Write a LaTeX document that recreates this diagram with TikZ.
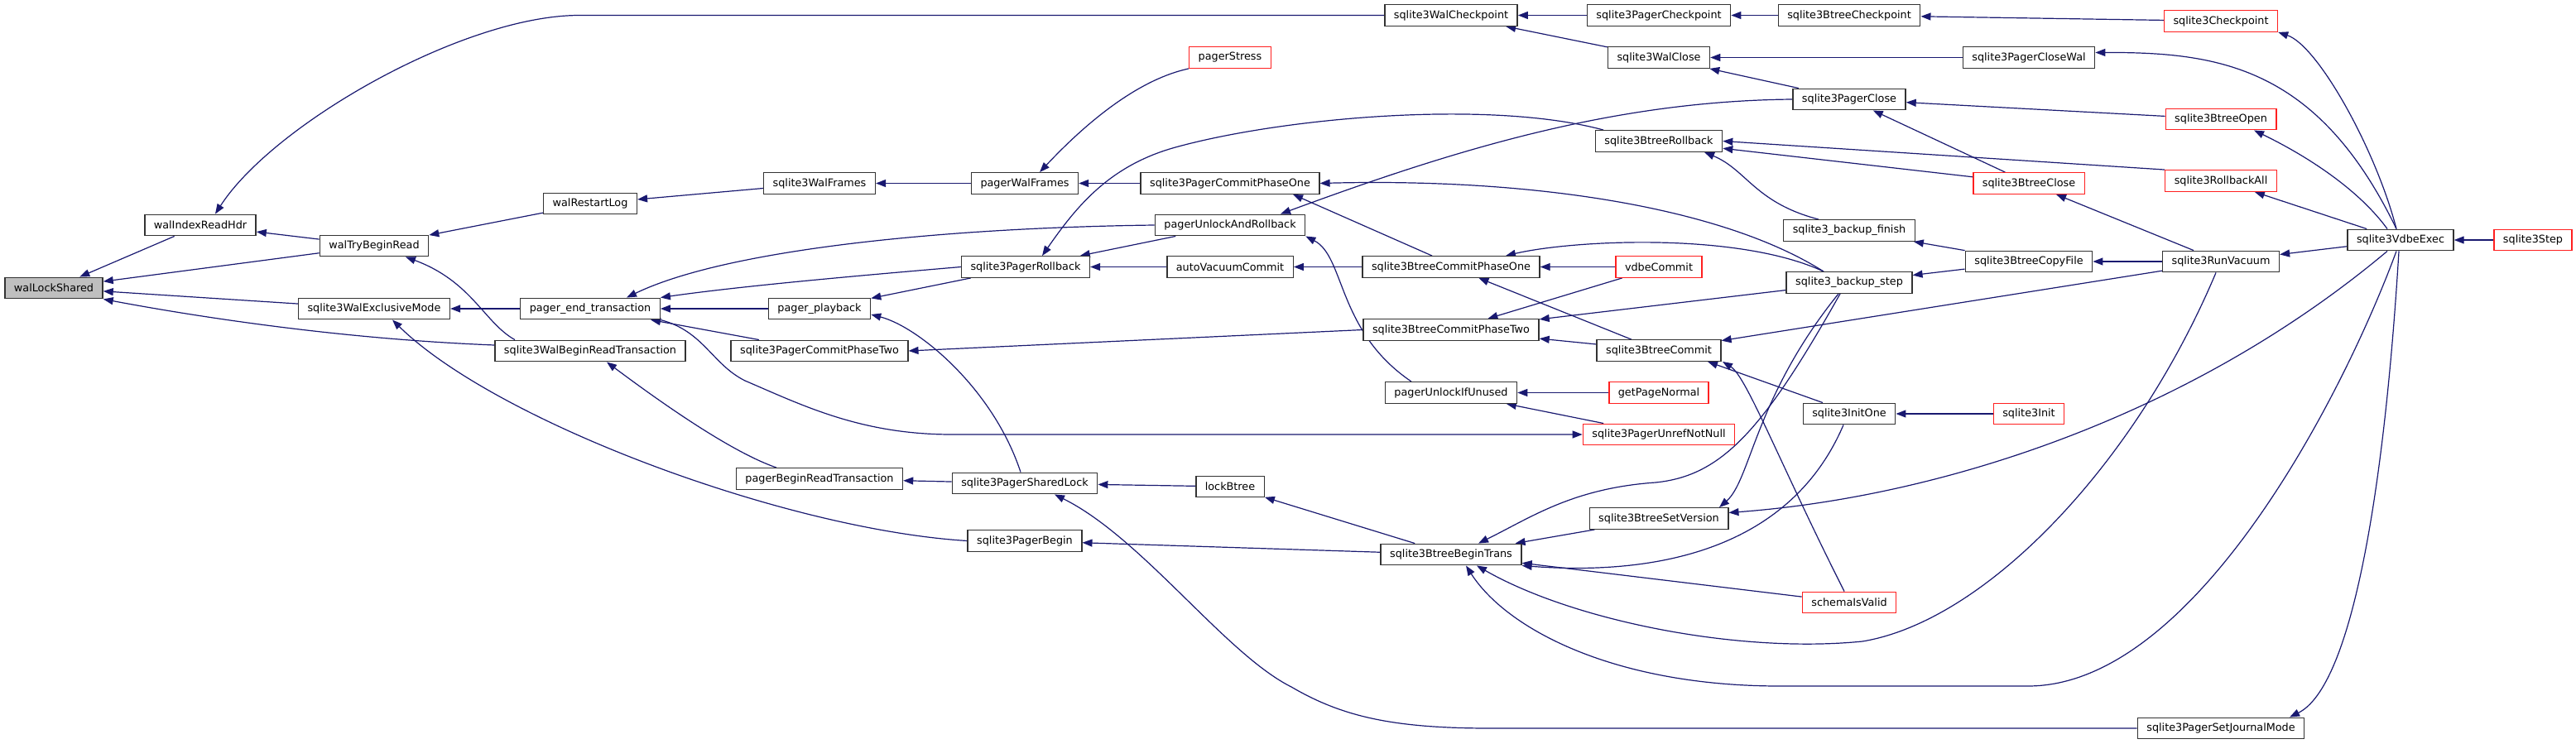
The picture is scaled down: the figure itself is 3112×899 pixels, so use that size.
\documentclass[tikz,border=0pt]{standalone}
\usepackage{fontspec}
\setmainfont{DejaVu Sans}
\usepackage{tikz}
\usetikzlibrary{arrows.meta,backgrounds}
\definecolor{midnight}{HTML}{191970}
\definecolor{boxline}{HTML}{333333}
\definecolor{calledred}{HTML}{FF2020}
\definecolor{rootgray}{HTML}{BFBFBF}
\tikzset{
  fnbox/.style={
    rectangle, draw=#1, fill=white, line width=1.4pt,
    minimum height=25.5pt, inner xsep=11pt, inner ysep=0pt,
    font=\fontsize{12.8}{15}\selectfont, text=black
  },
  fnbox/.default=boxline,
  calledge/.style={
    {Triangle[length=12pt,width=9pt]}-, line width=1.2pt, draw=midnight
  },
}

\begin{document}
\begin{tikzpicture}[x=1pt,y=-1pt]
  \useasboundingbox (0,0) rectangle (3112,899);

  % root function
  \node[fnbox, fill=rootgray] (lockShared) at (65,348) {walLockShared};

  % callers, column by column
  \node[fnbox] (indexReadHdr) at (242,272) {walIndexReadHdr};
  \node[fnbox] (tryBeginRead) at (452,297) {walTryBeginRead};
  \node[fnbox] (walExclMode) at (452,373) {sqlite3WalExclusiveMode};
  \node[fnbox] (restartLog) at (713,246) {walRestartLog};
  \node[fnbox] (endTxn) at (713,373) {pager\_end\_transaction};
  \node[fnbox] (walBeginRead) at (713,424) {sqlite3WalBeginReadTransaction};
  \node[fnbox] (walFrames) at (990,221.5) {sqlite3WalFrames};
  \node[fnbox] (playback) at (990,373) {pager\_playback};
  \node[fnbox] (pgCommit2) at (990,424) {sqlite3PagerCommitPhaseTwo};
  \node[fnbox] (beginReadTxn) at (990,578.5) {pagerBeginReadTransaction};
  \node[fnbox] (pagerWalFrames) at (1238,221.5) {pagerWalFrames};
  \node[fnbox] (pgRollback) at (1239,322.5) {sqlite3PagerRollback};
  \node[fnbox] (sharedLock) at (1238,584) {sqlite3PagerSharedLock};
  \node[fnbox] (pgBegin) at (1238,653.5) {sqlite3PagerBegin};
  \node[fnbox=calledred] (pagerStress) at (1486,69.5) {pagerStress};
  \node[fnbox] (pgCommit1) at (1486,221.5) {sqlite3PagerCommitPhaseOne};
  \node[fnbox] (unlockRollback) at (1486,272) {pagerUnlockAndRollback};
  \node[fnbox] (autoVacuum) at (1486,322.5) {autoVacuumCommit};
  \node[fnbox] (lockBtree) at (1486,588) {lockBtree};
  \node[fnbox] (walCkpt) at (1753,18.5) {sqlite3WalCheckpoint};
  \node[fnbox] (btCommit1) at (1753,322.5) {sqlite3BtreeCommitPhaseOne};
  \node[fnbox] (btCommit2) at (1753,398.5) {sqlite3BtreeCommitPhaseTwo};
  \node[fnbox] (unlockIfUnused) at (1753,474.5) {pagerUnlockIfUnused};
  \node[fnbox] (beginTrans) at (1753,670) {sqlite3BtreeBeginTrans};
  \node[fnbox] (pgCkpt) at (2004,18.5) {sqlite3PagerCheckpoint};
  \node[fnbox] (walClose) at (2004,69.5) {sqlite3WalClose};
  \node[fnbox] (btRollback) at (2004,170.5) {sqlite3BtreeRollback};
  \node[fnbox=calledred] (vdbeCommit) at (2004,322.5) {vdbeCommit};
  \node[fnbox] (btCommit) at (2004,423.5) {sqlite3BtreeCommit};
  \node[fnbox=calledred] (getPageNormal) at (2004,474.5) {getPageNormal};
  \node[fnbox=calledred] (unrefNotNull) at (2004,525) {sqlite3PagerUnrefNotNull};
  \node[fnbox] (setVersion) at (2004,626.5) {sqlite3BtreeSetVersion};
  \node[fnbox] (btCkpt) at (2234,18.5) {sqlite3BtreeCheckpoint};
  \node[fnbox] (pgClose) at (2234,120) {sqlite3PagerClose};
  \node[fnbox] (bkFinish) at (2234,278.5) {sqlite3\_backup\_finish};
  \node[fnbox] (bkStep) at (2234,341.5) {sqlite3\_backup\_step};
  \node[fnbox] (initOne) at (2234,500) {sqlite3InitOne};
  \node[fnbox=calledred] (schemaValid) at (2234,728) {schemaIsValid};
  \node[fnbox] (closeWal) at (2451,69.5) {sqlite3PagerCloseWal};
  \node[fnbox=calledred] (btClose) at (2451,221.5) {sqlite3BtreeClose};
  \node[fnbox] (copyFile) at (2451,316) {sqlite3BtreeCopyFile};
  \node[fnbox=calledred] (sqlInit) at (2451,500) {sqlite3Init};
  \node[fnbox=calledred] (checkpoint) at (2683,25.5) {sqlite3Checkpoint};
  \node[fnbox=calledred] (btOpen) at (2683,144) {sqlite3BtreeOpen};
  \node[fnbox=calledred] (rollbackAll) at (2683,218.5) {sqlite3RollbackAll};
  \node[fnbox] (runVacuum) at (2683,316) {sqlite3RunVacuum};
  \node[fnbox] (journalMode) at (2683,880) {sqlite3PagerSetJournalMode};
  \node[fnbox] (vdbeExec) at (2900,290) {sqlite3VdbeExec};
  \node[fnbox=calledred] (sqlStep) at (3060,290) {sqlite3Step};

  \begin{scope}[on background layer]
  % calls into the WAL layer
  \draw[calledge] (lockShared) -- (indexReadHdr);
  \draw[calledge] (lockShared) -- (tryBeginRead);
  \draw[calledge] (lockShared) -- (walExclMode);
  \draw[calledge] (lockShared.south east) .. controls (250,385) and (420,410) .. ([yshift=7pt]walBeginRead.west);
  \draw[calledge] ([xshift=18pt]indexReadHdr.north) .. controls (330,150) and (560,18.5) .. (700,18.5) -- (walCkpt.west);
  \draw[calledge] (indexReadHdr) -- (tryBeginRead);
  \draw[calledge] (tryBeginRead) -- (restartLog);
  \draw[calledge] ([xshift=38pt]tryBeginRead.south) .. controls (570,340) and (585,390) .. ([xshift=-91pt]walBeginRead.north);
  \draw[calledge] (restartLog) -- (walFrames);
  \draw[calledge] (walFrames) -- (pagerWalFrames);
  \draw[calledge] ([xshift=18pt]pagerWalFrames.north) .. controls (1320,140) and (1380,95) .. (pagerStress.south west);
  \draw[calledge] (pagerWalFrames) -- (pgCommit1);
  \draw[calledge] (walExclMode) -- (endTxn);
  \draw[calledge] ([xshift=22pt]walExclMode.south) .. controls (600,510) and (950,640) .. (pgBegin.west);

  % pager layer
  \draw[calledge] ([xshift=44pt]endTxn.north) .. controls (880,300) and (1150,275) .. (unlockRollback.west);
  \draw[calledge] (endTxn.north east) .. controls (900,345) and (1050,332) .. (pgRollback.west);
  \draw[calledge] (endTxn) -- (playback);
  \draw[calledge] (endTxn) -- (pgCommit2);
  \draw[calledge] (unrefNotNull.west) -- (1150,525) .. controls (1040,525) and (970,490) .. (900,460)
    .. controls (860,440) and (850,400) .. (endTxn.south east);
  \draw[calledge] (playback) -- (pgRollback);
  \draw[calledge] ([yshift=-7pt]playback.east) .. controls (1110,395) and (1200,470) .. ([xshift=-5pt]sharedLock.north);
  \draw[calledge] (pgRollback) -- (unlockRollback);
  \draw[calledge] (pgRollback) -- (autoVacuum);
  \draw[calledge] ([xshift=20pt]pgRollback.north) .. controls (1300,250) and (1340,200) .. (1420,178)
    .. controls (1550,142) and (1800,120) .. ([xshift=-67pt]btRollback.north);
  \draw[calledge] ([xshift=76pt]pgCommit1.south) -- ([xshift=-23pt]btCommit1.north);
  \draw[calledge] (pgCommit1.east) .. controls (1850,215) and (2080,250) .. ([xshift=-31pt]bkStep.north);
  \draw[calledge] ([xshift=61pt]unlockRollback.north) .. controls (1760,180) and (1950,122) .. (pgClose.west);
  \draw[calledge] (unlockRollback.south east) .. controls (1625,310) and (1615,400) .. ([xshift=-48pt]unlockIfUnused.north);
  \draw[calledge] (autoVacuum) -- (btCommit1);
  \draw[calledge] (pgCommit2.east) -- (btCommit2.west);
  \draw[calledge] (beginReadTxn) -- (sharedLock);
  \draw[calledge] ([xshift=20pt]walBeginRead.south) .. controls (790,480) and (880,545) .. ([xshift=-52pt]beginReadTxn.north);
  \draw[calledge] (sharedLock) -- (lockBtree);
  \draw[calledge] ([xshift=36pt]sharedLock.south) .. controls (1380,650) and (1480,790) .. (1560,830)
    .. controls (1620,865) and (1680,880) .. (1800,880) -- (journalMode.west);
  \draw[calledge] (lockBtree) -- (beginTrans);
  \draw[calledge] (pgBegin) -- (beginTrans);
  \draw[calledge] (unlockIfUnused) -- (getPageNormal);
  \draw[calledge] (unlockIfUnused) -- (unrefNotNull);

  % btree layer
  \draw[calledge] (walCkpt) -- (pgCkpt);
  \draw[calledge] (walCkpt) -- (walClose);
  \draw[calledge] (pgCkpt) -- (btCkpt);
  \draw[calledge] (btCkpt) -- (checkpoint);
  \draw[calledge] (walClose) -- (closeWal);
  \draw[calledge] (walClose) -- (pgClose);
  \draw[calledge] ([yshift=6pt]closeWal.east) .. controls (2680,63) and (2800,80) .. ([xshift=-5pt]vdbeExec.north);
  \draw[calledge] (pgClose) -- (btOpen);
  \draw[calledge] (pgClose) -- (btClose);
  \draw[calledge] (btRollback.east) -- (rollbackAll.north west);
  \draw[calledge] (btRollback) -- (btClose);
  \draw[calledge] ([xshift=55pt]btRollback.south) .. controls (2110,205) and (2120,245) .. ([xshift=-37pt]bkFinish.north);
  \draw[calledge] (btCommit1) -- (vdbeCommit);
  \draw[calledge] ([xshift=66pt]btCommit1.north) .. controls (1900,290) and (2100,280) .. ([xshift=-31pt]bkStep.north);
  \draw[calledge] (btCommit1) -- (btCommit);
  \draw[calledge] (btCommit2) -- (vdbeCommit);
  \draw[calledge] (btCommit2) -- (bkStep);
  \draw[calledge] (btCommit2) -- (btCommit);
  \draw[calledge] (btCommit) -- (runVacuum);
  \draw[calledge] ([xshift=59pt]btCommit.south) -- ([xshift=-32pt]initOne.north);
  \draw[calledge] ([xshift=77pt]btCommit.south) .. controls (2110,455) and (2150,560) .. ([xshift=-6pt]schemaValid.north);
  \draw[calledge] (bkStep) -- (copyFile);
  \draw[calledge] (bkFinish) -- (copyFile);
  \draw[calledge] (copyFile) -- (runVacuum);
  \draw[calledge] (btClose) -- (runVacuum);
  \draw[calledge] (runVacuum) -- (vdbeExec);
  \draw[calledge] (checkpoint.south east) .. controls (2800,55) and (2870,180) .. ([xshift=-5pt]vdbeExec.north);
  \draw[calledge] ([xshift=40pt]btOpen.south) .. controls (2790,190) and (2850,230) .. ([xshift=-16pt]vdbeExec.north);
  \draw[calledge] (rollbackAll) -- (vdbeExec);
  \draw[calledge] (vdbeExec) -- (sqlStep);

  % sqlite3BtreeBeginTrans and its callers
  \draw[calledge] ([xshift=33pt]beginTrans.north) .. controls (1850,625) and (1900,590) .. (2000,583)
    .. controls (2080,575) and (2130,520) .. ([xshift=-11pt]bkStep.south);
  \draw[calledge] ([xshift=73pt]setVersion.north) .. controls (2115,580) and (2120,480) .. ([xshift=-13pt]bkStep.south);
  \draw[calledge] (beginTrans) -- (setVersion);
  \draw[calledge] (beginTrans.south east) .. controls (1990,695) and (2160,670) .. ([xshift=-7pt]initOne.south);
  \draw[calledge] (beginTrans) -- (schemaValid);
  \draw[calledge] ([xshift=31pt]beginTrans.south) .. controls (1900,750) and (2100,790) .. (2250,775)
    .. controls (2400,750) and (2580,560) .. ([xshift=-6pt]runVacuum.south);
  \draw[calledge] ([xshift=18pt]beginTrans.south) .. controls (1820,760) and (1950,829) .. (2150,829)
    -- (2450,829) .. controls (2650,829) and (2830,480) .. ([xshift=-5pt]vdbeExec.south);
  \draw[calledge] ([yshift=7pt]setVersion.east) .. controls (2350,600) and (2650,500) .. ([xshift=-16pt]vdbeExec.south);
  \draw[calledge] (initOne) -- (sqlInit);
  \draw[calledge] ([xshift=83pt]journalMode.north) .. controls (2840,830) and (2880,600) .. ([xshift=-2pt]vdbeExec.south);
  \end{scope}
\end{tikzpicture}
\end{document}
